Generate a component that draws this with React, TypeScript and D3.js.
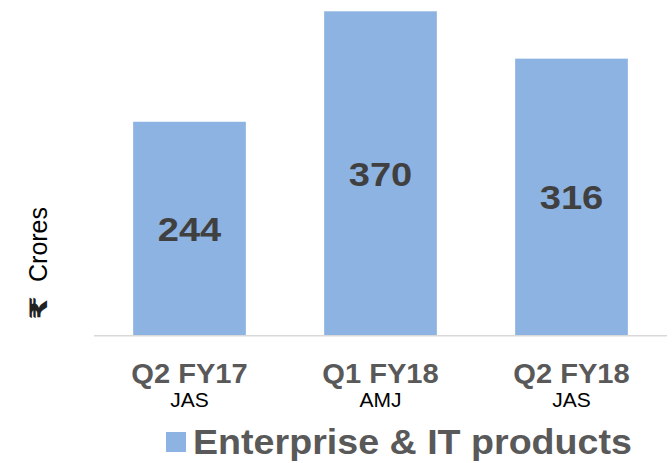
import React from "react";
import * as d3 from "d3";

const categories = ["Q2 FY17", "Q1 FY18", "Q2 FY18"];
const subLabels = ["JAS", "AMJ", "JAS"];
const values = [244, 370, 316];
const seriesName = "Enterprise & IT products";
const yLabel = "Crores";
const currency = "₹";

const W = 672;
const H = 463;
const FONT = "'Liberation Sans', Arial, sans-serif";

export default function App() {
  const x = d3
    .scaleBand<string>()
    .domain(categories)
    .range([94, 667])
    .paddingInner(0.41)
    .paddingOuter(0.205);
  const y = d3.scaleLinear().domain([0, 370]).range([335.7, 11.3]);

  const T = (
    key: string,
    tx: number,
    ty: number,
    txt: string,
    size: number,
    weight: string,
    fill: string,
    sx: number,
    anchor: string = "middle"
  ) => (
    <g key={key} transform={`translate(${tx},${ty}) scale(${sx},1)`}>
      <text
        x={0}
        y={0}
        fontFamily={FONT}
        fontSize={size}
        fontWeight={weight}
        fill={fill}
        textAnchor={anchor}
      >
        {txt}
      </text>
    </g>
  );

  return (
    <svg
      width={W}
      height={H}
      style={{ position: "absolute", left: 0, top: 0 }}
    >
      <rect width={W} height={H} fill="#ffffff" />
      {categories.map((c, i) => (
        <rect
          key={c}
          x={x(c)}
          y={y(values[i])}
          width={x.bandwidth()}
          height={y(0) - y(values[i])}
          fill="#8DB3E2"
        />
      ))}
      <line x1={94} x2={667} y1={y(0)} y2={y(0)} stroke="#D9D9D9" strokeWidth={1.5} />
      {categories.map((c, i) =>
        T(
          "v" + i,
          (x(c) as number) + x.bandwidth() / 2,
          (y(values[i]) + y(0)) / 2 + 12,
          String(values[i]),
          34,
          "bold",
          "#404040",
          1.12
        )
      )}
      {categories.map((c, i) =>
        T("c" + i, (x(c) as number) + x.bandwidth() / 2, 382.5, c, 28, "bold", "#595959", 1.04)
      )}
      {categories.map((c, i) =>
        T("s" + i, (x(c) as number) + x.bandwidth() / 2, 407, subLabels[i], 21, "normal", "#000000", 1.0)
      )}
      <rect x={166} y={432} width={20} height={20} fill="#8DB3E2" />
      {T("leg", 193, 454, seriesName, 35, "bold", "#595959", 1.075, "start")}
      <text
        transform={`translate(47,282) rotate(-90)`}
        fontFamily={FONT}
        fontSize={25}
        fill="#000000"
        textAnchor="start"
      >
        {yLabel}
      </text>
      <text
        transform={`translate(47,308) scale(1,1.45) rotate(-90)`}
        fontFamily="'DejaVu Sans', sans-serif"
        fontSize={24}
        fontWeight="bold"
        fill="#222222"
        textAnchor="middle"
      >
        {currency}
      </text>
    </svg>
  );
}
